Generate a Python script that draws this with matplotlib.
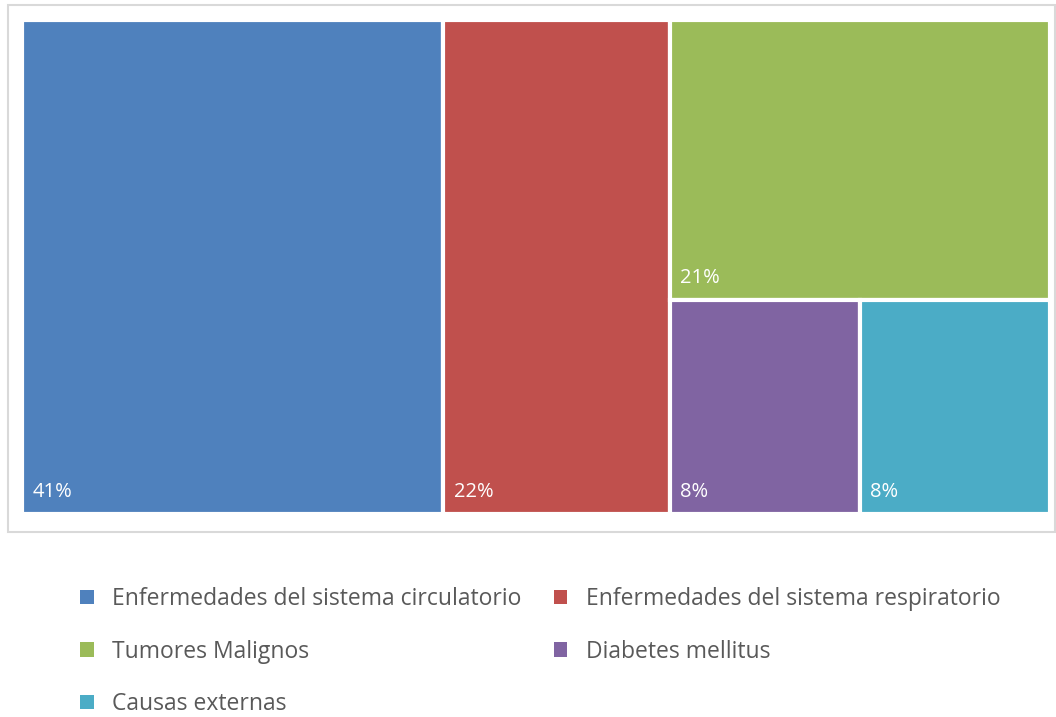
import matplotlib.pyplot as plt
from matplotlib.patches import Rectangle

plt.rcParams['font.family'] = ['Open Sans', 'DejaVu Sans']

# datos
categorias = ['Enfermedades del sistema circulatorio', 'Enfermedades del sistema respiratorio',
              'Tumores Malignos', 'Diabetes mellitus', 'Causas externas']
valores = [41, 22, 21, 8, 8]
etiquetas = ['41%', '22%', '21%', '8%', '8%']
colores = ['#4F81BD', '#C0504D', '#9BBB59', '#8064A2', '#4BACC6']

W, H = 1056, 717
fig = plt.figure(figsize=(W / 100, H / 100), dpi=100)

# marco exterior
fig.patches.append(Rectangle((8 / W, 1 - 532 / H), 1047 / W, 527 / H, transform=fig.transFigure,
                             fill=False, edgecolor='#d9d9d9', linewidth=1.5))

ax = fig.add_axes([22 / W, 1 - 514 / H, 1028 / W, 494 / H])
ax.set_xlim(0, 1)
ax.set_ylim(0, 1)
ax.axis('off')

total = sum(valores)
# disposición: dos columnas completas y una tercera dividida
rects = []
x = 0
for v in valores[:2]:
    w = v / total
    rects.append((x, 0, w, 1))
    x += w
resto = sum(valores[2:])
wr = 1 - x
h_top = valores[2] / resto
rects.append((x, 1 - h_top, wr, h_top))
abajo = sum(valores[3:])
xx = x
for v in valores[3:]:
    w = wr * v / abajo
    rects.append((xx, 0, w, 1 - h_top))
    xx += w

for (rx, ry, rw, rh), c, lab in zip(rects, colores, etiquetas):
    ax.add_patch(Rectangle((rx, ry), rw, rh, facecolor=c, edgecolor='white', linewidth=3))
    ax.text(rx + 0.01, ry + 0.045, lab, color='white', fontsize=14.5, va='center', ha='left')

# leyenda por filas
orden = [0, 2, 4, 1, 3]
handles = [Rectangle((0, 0), 1, 1, facecolor=colores[i], edgecolor='none') for i in orden]
leg = fig.legend(handles, [categorias[i] for i in orden], ncol=2, loc='upper left',
                 bbox_to_anchor=(80 / W, 1 - 587 / H), borderpad=0, borderaxespad=0,
                 frameon=False, fontsize=16.5, handlelength=0.6, handleheight=0.6,
                 handletextpad=0.8, columnspacing=1.4, labelspacing=1.25)
for t in leg.get_texts():
    t.set_color('#595959')

fig.savefig('out.png', dpi=100)
